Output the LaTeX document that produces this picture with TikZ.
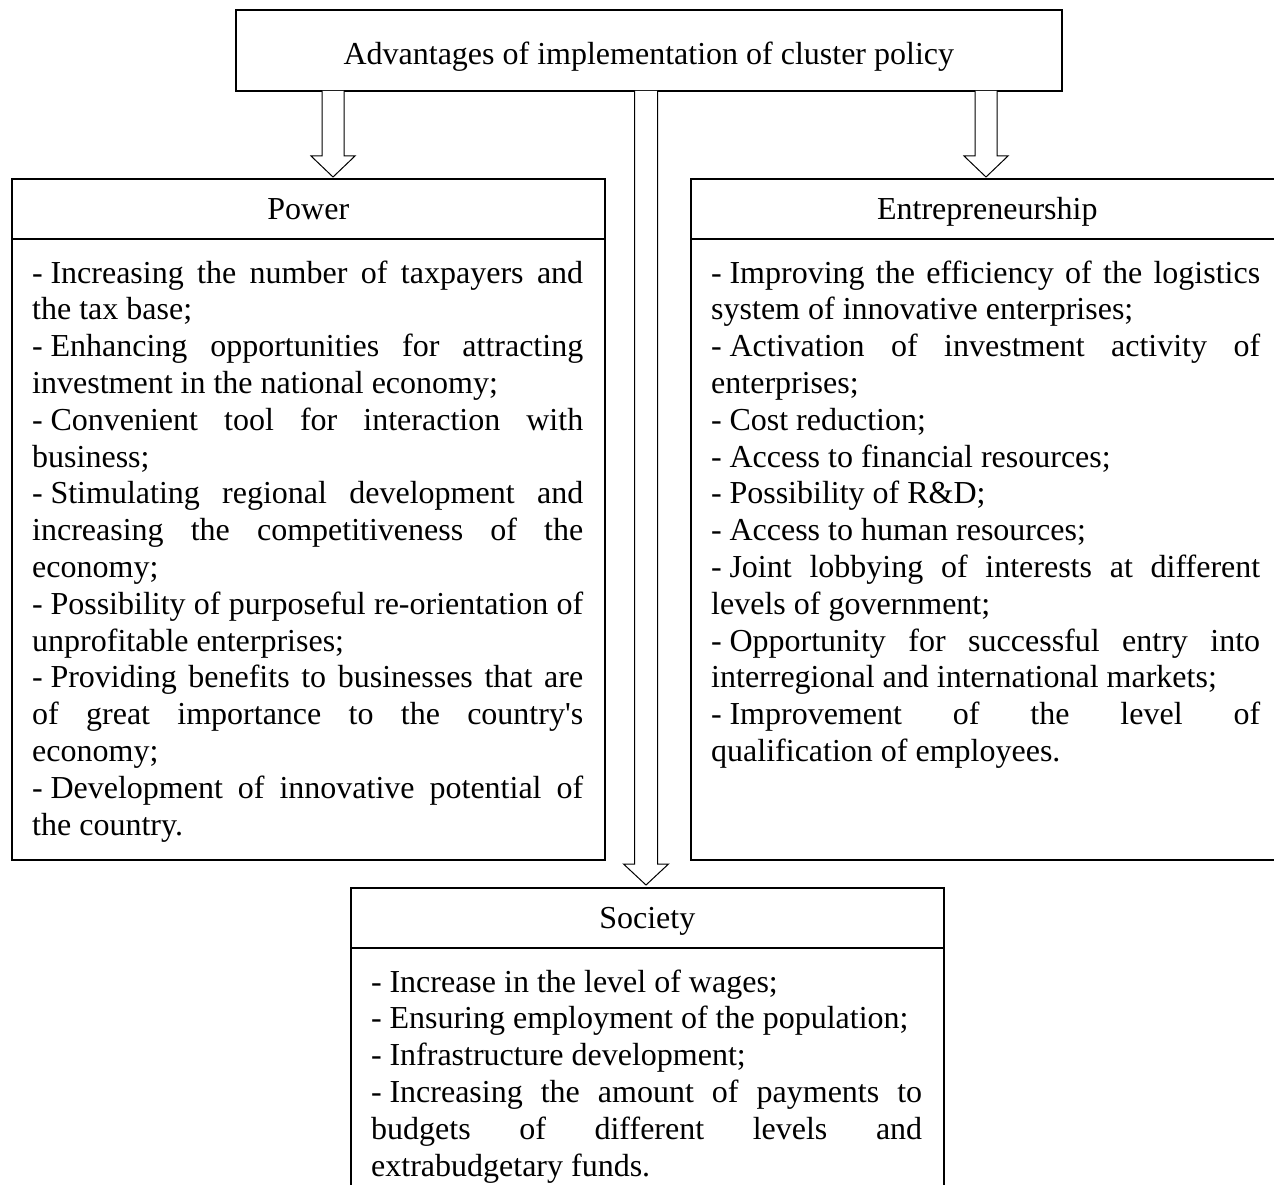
\documentclass[tikz,border=0pt]{standalone}
\usepackage{fontspec}
\setmainfont{Liberation Serif}
\usetikzlibrary{calc}
\newcommand\jline[2][551pt]{\makebox[#1][s]{\spaceskip=0.25em plus 1fil\relax #2}}
\newcommand\dsh{-\kern0.24em\relax}
\newcommand\hollowarrow[4]{% start, tip, half shaft, half head
  \draw[blockarrow] ([xshift=-#3]#1) -- ([xshift=-#3,yshift=21pt]#2) -- ([xshift=-#4,yshift=21pt]#2) -- (#2) -- ([xshift=#4,yshift=21pt]#2) -- ([xshift=#3,yshift=21pt]#2) -- ([xshift=#3]#1);}
\tikzset{
  boxline/.style={draw, line width=1.6pt, inner sep=0pt, anchor=north west, fill=none},
  blockarrow/.style={draw, line width=1pt, fill=white, line join=miter},
  txt/.style={font=\fontsize{32}{36.8}\selectfont},
  headtext/.style={txt, inner sep=0pt, anchor=base},
  bodytext/.style={txt, inner sep=0pt, text width=#1, align=left, anchor=base west},
  bodytext/.default=551pt
}
\newcommand\bodysetup{\spaceskip=0pt\xspaceskip=0pt\hyphenpenalty=10000\exhyphenpenalty=10000\relax}
\begin{document}
\begin{tikzpicture}[x=1pt,y=-1pt]
\useasboundingbox (0,0) rectangle (1274,1185);
\clip (0,0) rectangle (1274,1185);
\fill[white] (0,0) rectangle (1274,1185);

% top box
\node[boxline, minimum width=826pt, minimum height=81pt] (top) at (235,9) {};
\node[headtext] (toptitle) at ($(top.center)+(0,14)$) {Advantages of implementation of cluster policy};

% Power box
\node[boxline, minimum width=593pt, minimum height=681pt] (power) at (11,178) {};
\node[boxline, minimum width=593pt, minimum height=60pt] (powerhead) at (11,178) {};
\node[headtext] (powertitle) at ($(powerhead.center)+(0,11)$) {Power};
\node[bodytext] (powerbody) at (32,283) {\bodysetup
\jline{\dsh Increasing the number of taxpayers and}\\
the tax base;\\
\jline{\dsh Enhancing opportunities for attracting}\\
investment in the national economy;\\
\jline{\dsh Convenient tool for interaction with}\\
business;\\
\jline{\dsh Stimulating regional development and}\\
\jline{increasing the competitiveness of the}\\
economy;\\
\jline{\dsh Possibility of purposeful re-orientation of}\\
unprofitable enterprises;\\
\jline{\dsh Providing benefits to businesses that are}\\
\jline{of great importance to the country\textquotesingle s}\\
economy;\\
\jline{\dsh Development of innovative potential of}\\
the country.};

% Entrepreneurship box
\node[boxline, minimum width=593pt, minimum height=681pt] (entre) at (690,178) {};
\node[boxline, minimum width=593pt, minimum height=60pt] (entrehead) at (690,178) {};
\node[headtext] (entretitle) at ($(entrehead.center)+(0,11)$) {Entrepreneurship};
\node[bodytext=549pt] (entrebody) at (711,283) {\bodysetup
\jline[549pt]{\dsh Improving the efficiency of the logistics}\\
system of innovative enterprises;\\
\jline[549pt]{\dsh Activation of investment activity of}\\
enterprises;\\
\dsh Cost reduction;\\
\dsh Access to financial resources;\\
\dsh Possibility of R\&D;\\
\dsh Access to human resources;\\
\jline[549pt]{\dsh Joint lobbying of interests at different}\\
levels of government;\\
\jline[549pt]{\dsh Opportunity for successful entry into}\\
interregional and international markets;\\
\jline[549pt]{\dsh Improvement of the level of}\\
qualification of employees.};

% Society box
\node[boxline, minimum width=593pt, minimum height=330pt] (soc) at (350,887) {};
\node[boxline, minimum width=593pt, minimum height=60pt] (sochead) at (350,887) {};
\node[headtext] (soctitle) at ($(sochead.center)+(0,11)$) {Society};
\node[bodytext] (socbody) at (371,992) {\bodysetup
\dsh Increase in the level of wages;\\
\dsh Ensuring employment of the population;\\
\dsh Infrastructure development;\\
\jline{\dsh Increasing the amount of payments to}\\
\jline{budgets of different levels and}\\
extrabudgetary funds.};

% arrows
\coordinate (a1s) at (333,90.8);
\coordinate (a1e) at (333,177);
\coordinate (a2s) at (646,90.8);
\coordinate (a2e) at (646,885);
\coordinate (a3s) at (986,90.8);
\coordinate (a3e) at (986,177);
\hollowarrow{a1s}{a1e}{11pt}{22pt}
\hollowarrow{a2s}{a2e}{11.5pt}{22.5pt}
\hollowarrow{a3s}{a3e}{11pt}{22pt}
\end{tikzpicture}
\end{document}
